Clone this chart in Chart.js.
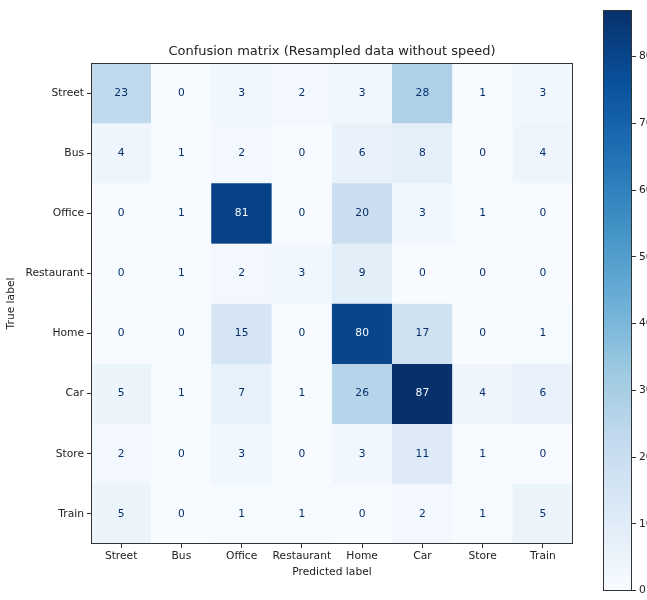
<!DOCTYPE html>
<html>
<head>
<meta charset="utf-8">
<script src="https://cdn.jsdelivr.net/npm/chart.js@4"></script>
<style>
  html, body { margin: 0; padding: 0; background: #fff; overflow: hidden; width: 647px; height: 600px; }
  #wrap { position: relative; width: 647px; height: 600px; }
  #matrix { position: absolute; left: 0; top: 0; }
  #cbar { position: absolute; left: 595px; top: 0; }
</style>
</head>
<body>
<div id="wrap">
  <canvas id="matrix" width="647" height="600"></canvas>
  <canvas id="cbar" width="110" height="600"></canvas>
</div>
<script>
// classes (same order on both axes)
const labels = ["Street", "Bus", "Office", "Restaurant", "Home", "Car", "Store", "Train"];

// rows = true label, columns = predicted label
const streetRow = [23, 0, 3, 2, 3, 28, 1, 3];
const busRow = [4, 1, 2, 0, 6, 8, 0, 4];
const officeRow = [0, 1, 81, 0, 20, 3, 1, 0];
const restaurantRow = [0, 1, 2, 3, 9, 0, 0, 0];
const homeRow = [0, 0, 15, 0, 80, 17, 0, 1];
const carRow = [5, 1, 7, 1, 26, 87, 4, 6];
const storeRow = [2, 0, 3, 0, 3, 11, 1, 0];
const trainRow = [5, 0, 1, 1, 0, 2, 1, 5];
const rows = [streetRow, busRow, officeRow, restaurantRow, homeRow, carRow, storeRow, trainRow];

const colorbarTicks = [0, 10, 20, 30, 40, 50, 60, 70, 80];

const vmin = 0;
const vmax = Math.max(...rows.flat());
const FONT = "'DejaVu Sans', sans-serif";
const SMALL = 10.7;

// matplotlib "Blues"
const blues = [
  [247, 251, 255], [222, 235, 247], [198, 219, 239], [158, 202, 225],
  [107, 174, 214], [66, 146, 198], [33, 113, 181], [8, 81, 156], [8, 48, 107]
];
function bluesColor(t) {
  t = Math.min(1, Math.max(0, t));
  const p = t * (blues.length - 1);
  const i = Math.min(blues.length - 2, Math.floor(p));
  const f = p - i;
  const c = blues[i].map((a, k) => Math.round(a + (blues[i + 1][k] - a) * f));
  return `rgb(${c[0]},${c[1]},${c[2]})`;
}

// box around the plot area
const framePlugin = {
  id: "frame",
  afterDraw(chart) {
    const a = chart.chartArea;
    const ctx = chart.ctx;
    ctx.save();
    ctx.strokeStyle = "#333";
    ctx.lineWidth = 1;
    ctx.strokeRect(Math.round(a.left) + 0.5, Math.round(a.top) + 0.5,
      Math.round(a.right - a.left) - 1, Math.round(a.bottom - a.top) - 1);
    ctx.restore();
  }
};

// counts written in the middle of each cell
const cellTextPlugin = {
  id: "cellText",
  afterDatasetsDraw(chart) {
    const ctx = chart.ctx;
    ctx.save();
    ctx.font = SMALL + "px " + FONT;
    ctx.textAlign = "center";
    ctx.textBaseline = "middle";
    chart.data.datasets.forEach((ds, r) => {
      const meta = chart.getDatasetMeta(r);
      meta.data.forEach((el, c) => {
        const v = ds.counts[c];
        const p = el.getCenterPoint();
        ctx.fillStyle = v > (vmax + vmin) / 2 ? bluesColor(0) : bluesColor(1);
        ctx.fillText(String(v), p.x, p.y);
      });
    });
    ctx.restore();
  }
};

new Chart(document.getElementById("matrix").getContext("2d"), {
  type: "bar",
  data: {
    labels: labels,
    datasets: rows.map((vals, r) => ({
      label: labels[r],
      data: labels.map(() => [r, r + 1]),
      counts: vals,
      backgroundColor: vals.map((v) => bluesColor((v - vmin) / (vmax - vmin))),
      borderColor: vals.map((v) => bluesColor((v - vmin) / (vmax - vmin))),
      borderWidth: 0.5,
      borderSkipped: false,
      barPercentage: 1,
      categoryPercentage: 1,
      grouped: false
    }))
  },
  options: {
    responsive: false,
    animation: false,
    layout: { padding: { left: 0, right: 74, top: 0, bottom: 0 } },
    plugins: {
      legend: { display: false },
      tooltip: { enabled: false },
      title: {
        display: true,
        text: "Confusion matrix (Resampled data without speed)",
        fullSize: false,
        color: "#222",
        font: { family: FONT, size: 13, weight: "normal" },
        padding: { top: 44.2, bottom: 3.2 }
      }
    },
    scales: {
      x: {
        type: "category",
        offset: true,
        grid: { offset: false, drawOnChartArea: false, drawTicks: true, tickLength: 4, color: "#333" },
        border: { display: false },
        ticks: { color: "#222", font: { family: FONT, size: SMALL }, padding: 2, maxRotation: 0, autoSkip: false },
        title: { display: true, text: "Predicted label", color: "#222", font: { family: FONT, size: SMALL }, padding: { top: 2, bottom: 21 } },
        afterFit(scale) { scale.height = 56; }
      },
      y: {
        type: "linear",
        min: 0,
        max: 8,
        reverse: true,
        afterBuildTicks(scale) { scale.ticks = labels.map((l, i) => ({ value: i + 0.5 })); },
        grid: { drawOnChartArea: false, drawTicks: true, tickLength: 4, color: "#333" },
        border: { display: false },
        ticks: { color: "#222", font: { family: FONT, size: SMALL }, padding: 3, callback: (v, i) => labels[i] },
        title: { display: true, text: "True label", color: "#222", font: { family: FONT, size: SMALL }, padding: { top: 5, bottom: 2 } },
        afterFit(scale) { scale.width = 91; }
      }
    }
  },
  plugins: [framePlugin, cellTextPlugin]
});

// colorbar
new Chart(document.getElementById("cbar").getContext("2d"), {
  type: "bar",
  data: {
    labels: [""],
    datasets: [{
      data: [[vmin, vmax]],
      barPercentage: 1,
      categoryPercentage: 1,
      borderWidth: 0,
      backgroundColor(ctx) {
        const area = ctx.chart.chartArea;
        if (!area) return bluesColor(0.5);
        const g = ctx.chart.ctx.createLinearGradient(0, area.bottom, 0, area.top);
        blues.forEach((c, i) => g.addColorStop(i / (blues.length - 1), `rgb(${c[0]},${c[1]},${c[2]})`));
        return g;
      }
    }]
  },
  options: {
    responsive: false,
    animation: false,
    layout: { padding: { left: 8, right: 0, top: 10, bottom: 4 } },
    plugins: { legend: { display: false }, tooltip: { enabled: false } },
    scales: {
      x: { display: false },
      y: {
        type: "linear",
        position: "right",
        min: vmin,
        max: vmax,
        afterBuildTicks(scale) { scale.ticks = colorbarTicks.map((v) => ({ value: v })); },
        grid: { drawOnChartArea: false, drawTicks: true, tickLength: 4, color: "#333" },
        border: { display: false },
        ticks: { color: "#222", font: { family: FONT, size: SMALL }, padding: 3 },
        afterFit(scale) { scale.width = 73; }
      }
    }
  },
  plugins: [framePlugin]
});
</script>
</body>
</html>
